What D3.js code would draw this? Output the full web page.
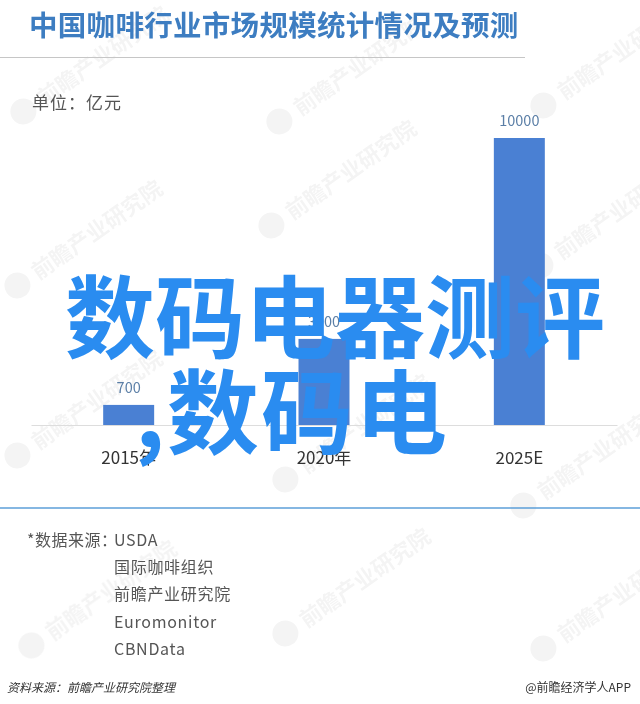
<!DOCTYPE html>
<html><head><meta charset="utf-8">
<script src="https://cdn.jsdelivr.net/npm/d3@7"></script>
<style>
body{margin:0;background:#fff}
svg{display:block}
text{font-family:"Noto Sans CJK SC","Noto Sans",sans-serif}
</style>
</head><body>
<svg id="c" width="640" height="704"></svg>
<script>
// ---- data ----
const categories = ["2015年", "2020年", "2025E"];
const values = [700, 3000, 10000];
const valueLabels = ["700", "3000", "10000"];
const titleText = "中国咖啡行业市场规模统计情况及预测";
const unitText = "单位：亿元";
const sourceLead = "*数据来源：";
const sourceLines = ["USDA", "国际咖啡组织", "前瞻产业研究院", "Euromonitor", "CBNData"];
const footLeft = "资料来源：前瞻产业研究院整理";
const footRight = "@前瞻经济学人APP";
const overlayLines = ["数码电器测评", ",数码电"];
const watermarkText = "前瞻产业研究院";

const svg = d3.select("#c");

// faint watermarks
const wmPos = [[28,118],[284,128],[548,112],[22,292],[276,232],[545,272],[22,462],[290,486],[528,512],[36,652],[290,640],[548,655]];
const wm = svg.append("g").attr("fill", "#000").attr("opacity", 0.045);
wmPos.forEach(p => {
  const g = wm.append("g").attr("transform", `translate(${p[0]},${p[1]}) rotate(-35)`);
  g.append("circle").attr("cx", 0).attr("cy", -8).attr("r", 13);
  g.append("text").attr("x", 20).attr("y", 0).attr("font-size", 22).attr("font-weight", 700).text(watermarkText);
});

// title
svg.append("text").attr("x", 29).attr("y", 36)
  .attr("font-size", 28.5).attr("letter-spacing", 0.3).attr("font-weight", 700).attr("fill", "#3d7dc1")
  .text(titleText);
svg.append("line").attr("x1", 0).attr("x2", 525).attr("y1", 57.5).attr("y2", 57.5)
  .attr("stroke", "#c6c6c6").attr("stroke-width", 1);

// unit
svg.append("text").attr("x", 32).attr("y", 109)
  .attr("font-size", 17).attr("letter-spacing", 1).attr("fill", "#555")
  .text(unitText);

// scales
const x = d3.scaleBand().domain(categories).range([31, 617])
  .paddingInner(0.739).paddingOuter(0.3695);
const y = d3.scaleLinear().domain([0, 10000]).range([425, 138]);

// bars
svg.append("g").selectAll("rect").data(values).join("rect")
  .attr("x", (d, i) => x(categories[i]))
  .attr("width", x.bandwidth())
  .attr("y", d => y(d))
  .attr("height", d => y(0) - y(d))
  .attr("fill", "#4a80d3");

// value labels
svg.append("g").selectAll("text").data(values).join("text")
  .attr("x", (d, i) => x(categories[i]) + x.bandwidth() / 2)
  .attr("y", d => y(d) - 12)
  .attr("text-anchor", "middle")
  .attr("font-size", 14.5).attr("fill", "#5a7ea6")
  .text((d, i) => valueLabels[i]);

// axis
const ax = svg.append("g").attr("transform", "translate(0,425)")
  .call(d3.axisBottom(x).tickSize(0).tickSizeOuter(0).tickPadding(27));
ax.select(".domain").attr("stroke", "#dddddd");
ax.selectAll("text").attr("font-size", 17).attr("fill", "#333")
  .attr("font-family", "\"Noto Sans CJK SC\",\"Noto Sans\",sans-serif");

// separator
svg.append("line").attr("x1", 0).attr("x2", 640).attr("y1", 508).attr("y2", 508)
  .attr("stroke", "#5d9fd8").attr("stroke-width", 1.6);

// sources
svg.append("text").attr("x", 27).attr("y", 546)
  .attr("font-size", 16).attr("letter-spacing", 0.5).attr("fill", "#555").text(sourceLead);
svg.append("g").selectAll("text").data(sourceLines).join("text")
  .attr("x", 114).attr("y", (d, i) => 546 + i * 27.2)
  .attr("font-size", 16).attr("letter-spacing", 0.7).attr("fill", "#555")
  .text(d => d);

// footer
svg.append("text").attr("x", 7).attr("y", 692)
  .attr("font-size", 12).attr("font-style", "italic").attr("fill", "#333").text(footLeft);
svg.append("text").attr("x", 631).attr("y", 692).attr("text-anchor", "end")
  .attr("font-size", 12).attr("fill", "#333").text(footRight);

// big overlay text
svg.append("g").selectAll("text").data(overlayLines).join("text")
  .attr("x", (d, i) => i === 0 ? 65 : 135)
  .attr("y", (d, i) => i === 0 ? 351 : 447)
  .attr("font-size", (d, i) => i === 0 ? 90 : 92)
  .attr("letter-spacing", (d, i) => i === 0 ? 0 : 2)
  .attr("font-weight", 700).attr("fill", "#2a8cf0")
  .text(d => d);
</script>
</body></html>
